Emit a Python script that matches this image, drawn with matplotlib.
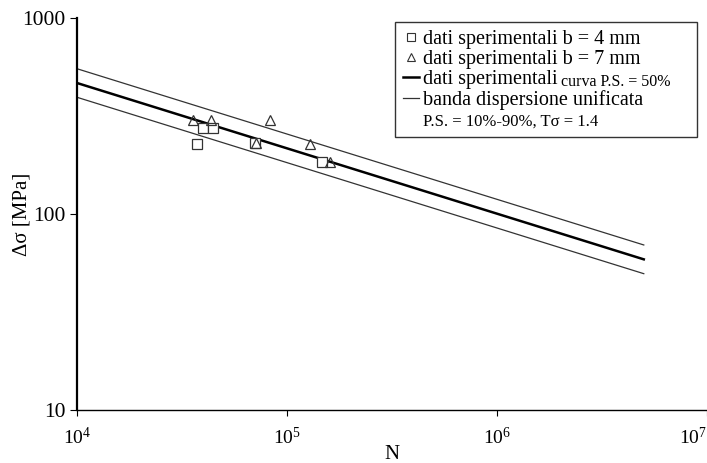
import matplotlib
matplotlib.use("Agg")
import matplotlib.pyplot as plt
from matplotlib.lines import Line2D

plt.rcParams['font.family'] = ['Liberation Serif', 'DejaVu Serif']
plt.rcParams['mathtext.fontset'] = 'custom'
plt.rcParams['mathtext.rm'] = 'Liberation Serif'
plt.rcParams['mathtext.it'] = 'Liberation Serif:italic'

# dati sperimentali b = 4 mm
n_b4 = [37200, 39800, 44400, 70400, 146800]
s_b4 = [227, 275, 275, 230, 184]
# dati sperimentali b = 7 mm
n_b7 = [35700, 43500, 71200, 83000, 128700, 160200]
s_b7 = [302, 302, 230, 302, 227, 184]

# curve P.S. 50% e banda 10%-90%
n_curve = [1e4, 5e6]
s_ps50 = [466, 58.7]
s_ps10 = [551, 69.5]
s_ps90 = [394, 49.6]

fig = plt.figure(figsize=(7.07, 4.63), dpi=100)
ax = fig.add_axes([77 / 707, 1 - 410 / 463, 630 / 707, 392 / 463])

ax.plot(n_curve, s_ps10, color='#333333', lw=0.9)
ax.plot(n_curve, s_ps90, color='#333333', lw=0.9)
ax.plot(n_curve, s_ps50, color='black', lw=1.8)
ax.plot(n_b4, s_b4, ls='none', marker='s', ms=7, mfc='white', mec='#333333', mew=0.9)
ax.plot(n_b7, s_b7, ls='none', marker='^', ms=7, mfc='none', mec='#333333', mew=0.9)

ax.set_xscale('log')
ax.set_yscale('log')
ax.set_xlim(1e4, 1e7)
ax.set_ylim(10, 1000)
ax.set_xticks([1e4, 1e5, 1e6, 1e7])
ax.set_xticklabels(['$10^{4}$', '$10^{5}$', '$10^{6}$', '$10^{7}$'])
ax.set_yticks([10, 100, 1000])
ax.set_yticklabels(['10', '100', '1000'])
ax.minorticks_off()
ax.tick_params(axis='x', direction='out', length=4, pad=8, labelsize=14)
ax.tick_params(axis='y', direction='out', length=5, pad=3, labelsize=15.5)
ax.get_xticklabels()[-1].set_horizontalalignment('right')

ax.spines['top'].set_visible(False)
ax.spines['right'].set_visible(False)
ax.spines['left'].set_linewidth(1.6)
ax.spines['bottom'].set_linewidth(1.0)

ax.set_xlabel('N', fontsize=15, labelpad=-2)
ax.set_ylabel('Δσ [MPa]', fontsize=15)
ax.yaxis.set_label_coords(-0.073, 0.5)

handles = [
    Line2D([], [], ls='none', marker='s', ms=6, mfc='white', mec='#333333', mew=0.8),
    Line2D([], [], ls='none', marker='^', ms=6, mfc='none', mec='#333333', mew=0.8),
    Line2D([], [], color='black', lw=1.8),
    Line2D([], [], color='#333333', lw=0.9),
    Line2D([], [], ls='none'),
]
labels = ['dati sperimentali b = 4 mm', 'dati sperimentali b = 7 mm',
          'dati sperimentali', 'banda dispersione unificata', 'P.S. = 10%-90%, Tσ = 1.4']
leg = ax.legend(handles, labels, loc='upper left', mode='expand',
                bbox_to_anchor=((395 - 77) / 630, 0, 302 / 630, 1 - 4 / 392),
                fontsize=14.5, frameon=True, fancybox=False, edgecolor='black',
                handlelength=0.8, handletextpad=0.2, labelspacing=0.05, borderpad=0.4,
                borderaxespad=0)
leg.get_frame().set_linewidth(1.0)
leg.get_texts()[4].set_fontsize(12)

fig.canvas.draw()
r = fig.canvas.get_renderer()
bb = leg.get_texts()[2].get_window_extent(r)
fig.text(bb.x1 + 3, bb.y0 + 3, 'curva P.S. = 50%', fontsize=11.5, transform=None)

fig.savefig('out.png', dpi=100)
